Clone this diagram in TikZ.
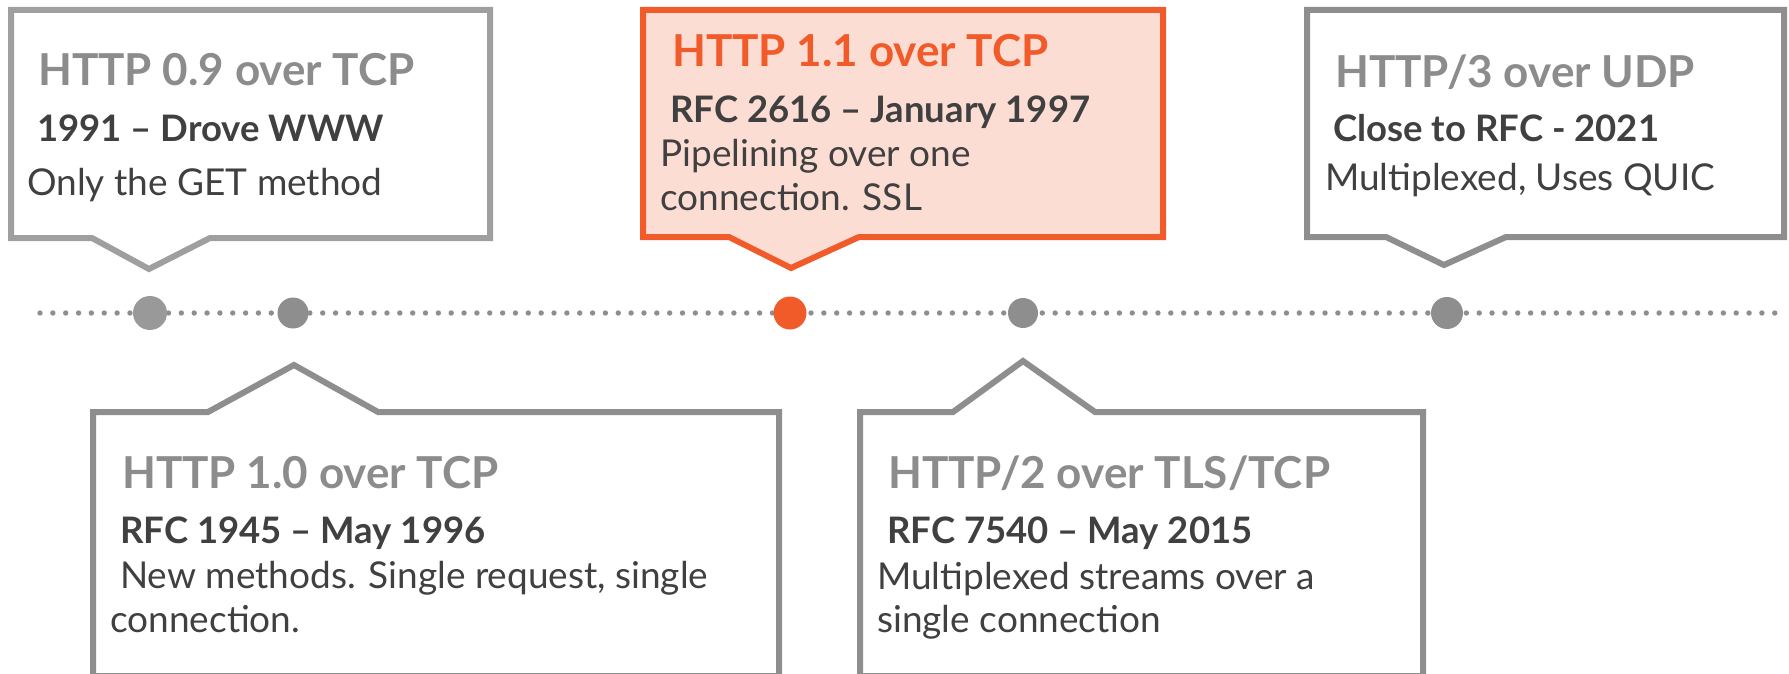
\documentclass[tikz,border=0pt]{standalone}
\usepackage{fontspec}
\setmainfont{Lato}
\definecolor{gline}{HTML}{8E8E8E}
\definecolor{gtitle}{HTML}{8C8C8C}
\definecolor{dtext}{HTML}{404040}
\definecolor{orng}{HTML}{F15A29}
\definecolor{pinkfill}{HTML}{FCDDD3}
\tikzset{
  callout/.style={draw=gline, line width=6pt, line join=miter, fill=white},
  hotcallout/.style={draw=orng, line width=6pt, line join=miter, fill=pinkfill},
  ttl/.style={anchor=base west, inner sep=0pt, text=gtitle, font=\fontsize{44}{52}\selectfont\bfseries},
  sub/.style={anchor=base west, inner sep=0pt, text=dtext, font=\fontsize{36.5}{43}\selectfont\bfseries},
  body/.style={anchor=base west, inner sep=0pt, text=dtext, font=\fontsize{37}{44}\selectfont},
}
\begin{document}
\begin{tikzpicture}[x=1pt,y=-1pt]
\useasboundingbox (0,0) rectangle (1789,674);
% dotted timeline
\foreach \k in {0,...,135} {
  \fill[gline] ({40+\k*12.85},313) circle (2.7);
}
% milestones
\fill[gline!90!white] (150,313) circle (17) coordinate (m1);
\fill[gline] (293,313) circle (15.5) coordinate (m2);
\fill[orng] (790,313) circle (16.5) coordinate (m3);
\fill[gline] (1023,313) circle (15) coordinate (m4);
\fill[gline] (1447,313) circle (16) coordinate (m5);
% callouts above
\draw[callout, draw=gline!85!white] (11,10) -- (490,10) -- (490,238) -- (210,238) -- (149,269) -- (92,238) -- (11,238) -- cycle;
\draw[hotcallout] (643,10) -- (1163,10) -- (1163,237) -- (859,237) -- (791,268) -- (729,237) -- (643,237) -- cycle;
\draw[callout] (1307,10) -- (1784,10) -- (1784,237) -- (1506,237) -- (1444,265) -- (1386,237) -- (1307,237) -- cycle;
% callouts below
\draw[callout] (93,412) -- (208,412) -- (294,365) -- (378,412) -- (779,412) -- (779,676) -- (93,676) -- cycle;
\draw[callout] (860,412) -- (953,412) -- (1023,361) -- (1095,412) -- (1423,412) -- (1423,676) -- (860,676) -- cycle;
% texts box 1
\node[ttl] (t1) at (38,86) {HTTP 0.9 over TCP};
\node[sub] (s1) at (37,142) {1991 – Drove WWW};
\node[body] (b1) at (27,195) {Only the GET method};
% box 2
\node[ttl, text=orng] (t2) at (672,67) {HTTP 1.1 over TCP};
\node[sub] (s2) at (670,123) {RFC 2616 – January 1997};
\node[body] (b2a) at (660,167) {Pipelining over one};
\node[body] (b2b) at (660,210) {connection. SSL};
% box 3
\node[ttl] (t3) at (1335,88) {HTTP/3 over UDP};
\node[sub] (s3) at (1333,142) {Close to RFC - 2021};
\node[body] (b3) at (1325,190) {Multiplexed, Uses QUIC};
% box 4
\node[ttl] (t4) at (122,488) {HTTP 1.0 over TCP};
\node[sub] (s4) at (120,543) {RFC 1945 – May 1996};
\node[body] (b4a) at (120,588) {New methods. Single request, single};
\node[body] (b4b) at (110,632) {connection.};
% box 5
\node[ttl] (t5) at (888,488) {HTTP/2 over TLS/TCP};
\node[sub] (s5) at (887,543) {RFC 7540 – May 2015};
\node[body] (b5a) at (877,589) {Multiplexed streams over a};
\node[body] (b5b) at (877,632) {single connection};
\end{tikzpicture}
\end{document}
